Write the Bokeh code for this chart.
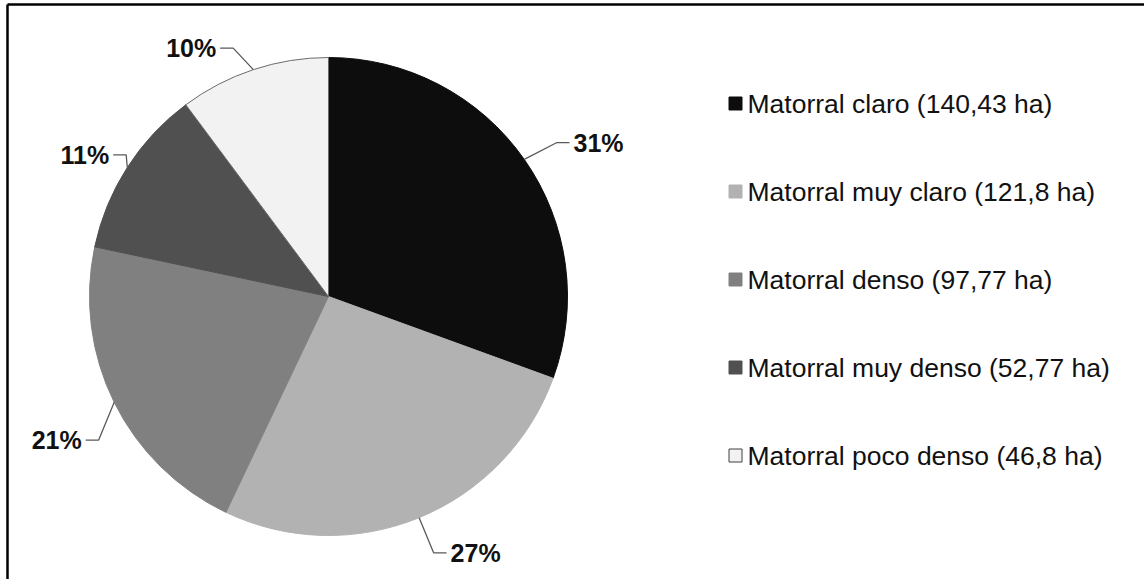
import numpy as np
from bokeh.plotting import figure
from bokeh.models import Range1d, ColumnDataSource
from bokeh.embed import file_html
from bokeh.resources import INLINE
from bokeh.core.properties import value

# ---- data ----
categories = ["Matorral claro", "Matorral muy claro", "Matorral denso",
              "Matorral muy denso", "Matorral poco denso"]
hectares = [140.43, 121.8, 97.77, 52.77, 46.8]
hectare_labels = ["140,43", "121,8", "97,77", "52,77", "46,8"]

# ---- style / layout ----
colors = ["#0d0d0d", "#b2b2b2", "#808080", "#505050", "#f2f2f2"]
edge_colors = ["#0d0d0d", "#b2b2b2", "#808080", "#505050", "#6a6a6a"]
W, H = 1144, 579
CX, CY = 328, H - 296
R = 239
# elbow of each leader line: angle (deg, clockwise from top) and radius
label_angle = [56, 157.7, 238, 305, 339]
label_radius = [275, 277, 271, 247, 266]
FONT = "Liberation Sans"

vals = np.array(hectares, dtype=float)
total = vals.sum()
frac = vals / total
cum = np.concatenate([[0], np.cumsum(frac)]) * 2 * np.pi
start = np.pi / 2 - cum[:-1]
end = np.pi / 2 - cum[1:]
mid_theta = (cum[:-1] + cum[1:]) / 2  # clockwise from top
pct = [f"{int(round(f * 100))}%" for f in frac]

p = figure(width=W, height=H, output_backend="svg", toolbar_location=None,
           x_range=Range1d(0, W), y_range=Range1d(0, H), min_border=0,
           outline_line_color=None)
p.axis.visible = False
p.xgrid.visible = False
p.ygrid.visible = False
p.background_fill_color = "white"
p.border_fill_color = "white"

src = ColumnDataSource(dict(start=start, end=end, color=colors, edge=edge_colors))
p.wedge(x=CX, y=CY, radius=R, start_angle="start", end_angle="end",
        direction="clock", fill_color="color", line_color="edge", line_width=1,
        source=src)

# leader lines and percent labels
xs, ys = [], []
tx, ty, tal = [], [], []
for i in range(len(vals)):
    t = mid_theta[i]
    ex, ey = CX + R * np.sin(t), CY + R * np.cos(t)
    la = np.radians(label_angle[i])
    bx, by = CX + label_radius[i] * np.sin(la), CY + label_radius[i] * np.cos(la)
    side = 1 if np.sin(la) > 0 else -1
    hx = bx + side * 13
    xs.append([ex, bx, hx])
    ys.append([ey, by, by])
    tx.append(hx + side * 4)
    ty.append(by)
    tal.append("left" if side > 0 else "right")
p.multi_line(xs=xs, ys=ys, line_color="#595959", line_width=1.3)
p.text(x=tx, y=ty, text=pct, text_align=tal, text_baseline="middle",
       text_font=value(FONT), text_font_style="bold", text_font_size="25px",
       text_color="#111111")

# legend
leg_y = [H - (103 + 88 * i) for i in range(len(vals))]
leg_text = [f"{c} ({h} ha)" for c, h in zip(categories, hectare_labels)]
p.rect(x=[735] * len(vals), y=leg_y, width=13, height=13, fill_color=colors,
       line_color=["#0d0d0d", "#b2b2b2", "#808080", "#505050", "#404040"], line_width=1)
p.text(x=[747] * len(vals), y=leg_y, text=leg_text, text_baseline="middle",
       text_font=value(FONT), text_font_size="26.5px", text_color="#111111")

# frame (top and left edges; right and bottom lie outside the picture)
p.segment(x0=[7, 7], y0=[H - 4, H - 4], x1=[W + 50, 7], y1=[H - 4, -50],
          line_color="black", line_width=2.5)

open("out.html", "w").write(file_html(p, INLINE))
